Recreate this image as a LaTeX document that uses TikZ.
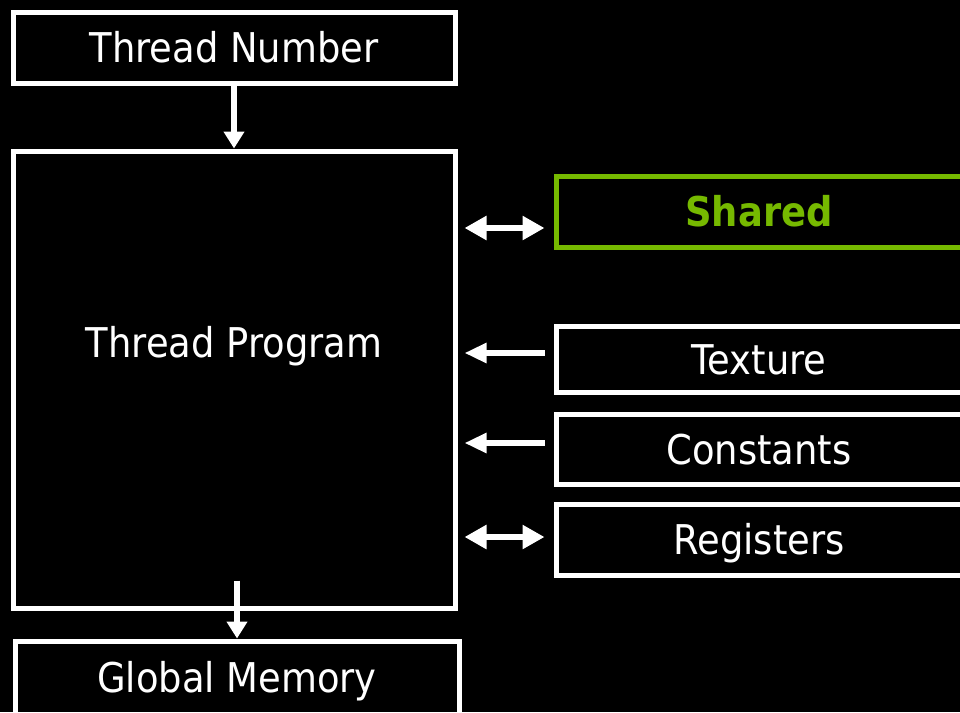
\documentclass[tikz,border=0pt]{standalone}
\usepackage{fontspec}
\setmainfont{DejaVu Sans}[FakeStretch=0.9]
\usetikzlibrary{arrows.meta}
\definecolor{nvgreen}{RGB}{118,185,0}
\tikzset{
  box/.style={draw=white, line width=5pt, fill=black, rectangle, text=white,
    font=\fontsize{41}{49}\selectfont, inner sep=0pt, text height=30pt, text depth=0pt},
  greenbox/.style={box, draw=nvgreen, text=nvgreen, font=\fontsize{41}{49}\selectfont\bfseries},
  label/.style={text=white, font=\fontsize{41}{49}\selectfont, inner sep=0pt, text height=30pt, text depth=0pt},
  vtip/.style={-{Triangle[width=20pt,length=17pt]}, white, line width=5.5pt},
  ltip/.style={-{Triangle[width=19pt,length=22pt]}, white, line width=5.5pt},
  dtip/.style={{Triangle[width=23pt,length=22pt]}-{Triangle[width=23pt,length=22pt]}, white, line width=5.5pt},
}
\begin{document}
\begin{tikzpicture}[x=1pt,y=-1pt]
\useasboundingbox (0,0) rectangle (960,712);
\clip (0,0) rectangle (960,712);
\fill[black] (0,0) rectangle (960,712);

\node[box, minimum width=442pt, minimum height=71pt] (tn) at (234,47.5) {Thread Number};
\node[box, minimum width=442pt, minimum height=457pt] (tp) at (234,379.5) {};
\node[label] (tpl) at (234,342) {Thread Program};
\node[box, minimum width=444pt, minimum height=73pt] (gm) at (237,677.5) {Global Memory};

\node[greenbox, minimum width=406pt, minimum height=71pt] (sh) at (759,211.5) {Shared};
\node[box, minimum width=406pt, minimum height=66pt] (tx) at (759,359) {Texture};
\node[box, minimum width=406pt, minimum height=70pt] (cs) at (759,449) {Constants};
\node[box, minimum width=406pt, minimum height=71pt] (rg) at (759,539.5) {Registers};

\draw[vtip] (tn.south) -- (tp.north);
\draw[vtip] ([yshift=58pt]gm.north -| 237,0) -- (gm.north -| 237,0);

\draw[dtip] ([xshift=7pt]tp.east |- 0,228) -- ([xshift=-9pt]sh.west |- 0,228);
\draw[ltip] ([xshift=-9pt]tx.west |- 0,353) -- ([xshift=7pt]tp.east |- 0,353);
\draw[ltip] ([xshift=-9pt]cs.west |- 0,443) -- ([xshift=7pt]tp.east |- 0,443);
\draw[dtip] ([xshift=7pt]tp.east |- 0,537) -- ([xshift=-9pt]rg.west |- 0,537);
\end{tikzpicture}
\end{document}
